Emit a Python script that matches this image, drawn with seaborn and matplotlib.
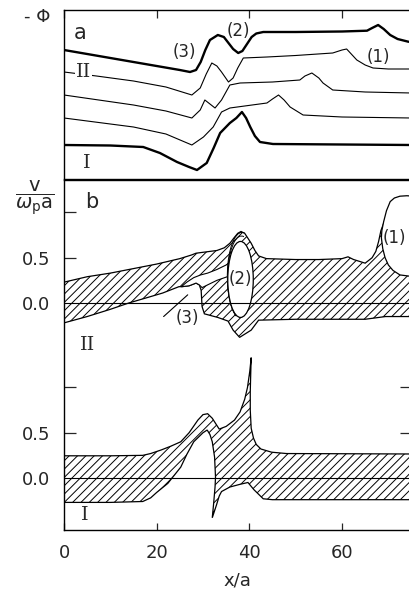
import numpy as np
import matplotlib
matplotlib.use("Agg")
import matplotlib.pyplot as plt
import seaborn as sns
from matplotlib.patches import Ellipse, Arc

sns.set_theme(style="ticks")
plt.rcParams['font.family'] = ['DejaVu Sans']
plt.rcParams['mathtext.fontset'] = 'dejavusans'
plt.rcParams['hatch.linewidth'] = 0.7

# ---- panel a: -phi profiles (arbitrary units, stacked) ----
a_x = [0, 5, 10, 15, 20, 25, 27.2, 28.5, 29.5, 30.5, 31.5, 33.2, 34.5, 35.5, 36.5, 37.6, 38.5, 39.5,
       40.5, 41.5, 43, 50, 60, 65.4, 66.5, 67.8, 69, 70.4, 72, 74.3, 75]
a_y = [129, 125, 121, 117, 113, 109, 107, 109, 117, 129, 139, 144, 142, 136, 130, 126, 128, 135,
       142, 145.5, 147, 147, 147.5, 148.3, 151, 154, 150, 144, 140, 137.3, 137]

c2_x = [0, 7, 15, 22, 27.6, 29.4, 30.7, 31.9, 33, 34, 35.5, 36.5, 37.5, 38.7, 43.8, 50, 58, 60, 61,
        62, 63.2, 65, 66.7, 70, 75]
c2_y = [107, 103, 98, 92, 84, 91, 105, 116, 113, 107, 97, 101, 111, 121, 122, 123.5, 126, 129, 130,
        125, 119, 114, 111, 110, 110]

c3_x = [0, 15, 22, 27.6, 29.4, 30.4, 31.5, 32.6, 34, 35.8, 38, 45, 50.9, 52, 53.5, 55, 55.9, 58, 65, 75]
c3_y = [84, 74, 68, 61, 69, 79, 75, 71, 79, 94, 96, 97, 99, 103, 106, 101, 96, 89, 87, 86]

c4_x = [0, 15, 22, 27.6, 30.1, 32.2, 34, 35.8, 43.8, 45, 46.3, 47.5, 48.8, 51.6, 60, 75]
c4_y = [61, 52, 45, 34, 42, 52, 67, 71, 76, 80, 84, 79, 72, 64, 62, 61]

c1_x = [0, 10, 17.1, 20.7, 24.4, 27, 28.7, 30.8, 32.3, 33.7, 35.8, 37.2, 38.4, 39.3, 40.2, 41.2,
        42.3, 45.1, 75]
c1_y = [34, 33.5, 32, 26, 17, 12, 9, 16, 31, 46, 56, 61, 67, 61, 52, 43, 37, 35, 34]

# ---- panel b: phase space regions, v/(omega_p a) ----
D = 1.934  # vertical offset of case II

II_top_x = [0, 5, 10, 15, 20, 25, 27.5, 28.5, 30, 33, 34.6, 35.8, 36.7, 37.5, 38.2, 39, 40.4, 41.2,
            42, 43.7, 50, 55, 60, 61.3, 62.5, 65, 66.5, 67.3, 67.9, 68.4, 68.7, 69.5, 70.5, 75.5]
II_top_v = [0.23, 0.29, 0.33, 0.38, 0.43, 0.49, 0.53, 0.55, 0.56, 0.58, 0.61, 0.66, 0.72, 0.77, 0.79,
            0.77, 0.66, 0.58, 0.52, 0.49, 0.48, 0.48, 0.49, 0.51, 0.48, 0.44, 0.5, 0.57, 0.68, 0.8,
            0.84, 0.95, 1.0, 1.0]
II_bot_x = [75.5, 69.4, 65, 58.5, 50, 42, 40.4, 37.9, 36.5, 35.4, 33.2, 30.3, 29.8, 29.6, 29.2, 28.5,
            27, 25.5, 24.8, 21.3, 18, 14, 10, 5, 0]
II_bot_v = [-0.15, -0.15, -0.18, -0.18, -0.18, -0.19, -0.3, -0.38, -0.3, -0.2, -0.16, -0.12, -0.04,
            0.14, 0.2, 0.22, 0.19, 0.18, 0.18, 0.11, 0.06, 0.0, -0.07, -0.15, -0.22]

gap_x = [25.3, 26.5, 28, 29.5, 31, 33, 35, 35.8, 35.8, 33, 31, 29.8, 29.2, 28.5, 27, 25.3]
gap_v = [0.18, 0.23, 0.28, 0.31, 0.33, 0.37, 0.42, 0.45, 0.3, 0.25, 0.2, 0.17, 0.2, 0.22, 0.19, 0.18]

bub_x = [68.5, 68.8, 69.3, 70, 71, 72.5, 74, 75.5, 75.5, 74, 72.5, 71.3, 70.4, 69.6, 69, 68.6, 68.5]
bub_v = [0.72, 0.6, 0.5, 0.42, 0.36, 0.31, 0.3, 0.29, 1.18, 1.185, 1.18, 1.16, 1.12, 1.02, 0.9,
         0.8, 0.72]

hole2 = dict(x=38.1, v=0.26, w=5.5, h=0.84)

I_top_x = [0, 10, 17, 18.7, 21, 23, 25.2, 27, 28.9, 30, 31, 32, 33.5, 35, 36.8, 38, 39, 39.6, 40.1,
           40.4, 40.3, 40.2, 40.2, 40.4, 40.9, 41.5, 42.5, 44.8, 48, 75.5]
I_top_v = [0.245, 0.245, 0.25, 0.27, 0.31, 0.35, 0.4, 0.5, 0.64, 0.7, 0.71, 0.66, 0.54, 0.57, 0.64,
           0.73, 0.87, 1.0, 1.18, 1.33, 1.15, 0.95, 0.75, 0.55, 0.44, 0.37, 0.32, 0.285, 0.27, 0.265]
I_bot_x = [75.5, 45, 43, 41, 39.7, 38, 35.8, 34, 33.5, 32.9, 32.0, 32.3, 32.6, 32.7, 32.5, 32.0,
           31.5, 30.9, 30, 28, 26.5, 25.2, 22.4, 20, 18.7, 17, 10, 0]
I_bot_v = [-0.24, -0.24, -0.23, -0.13, -0.05, -0.07, -0.1, -0.15, -0.2, -0.3, -0.44, -0.28, -0.1,
           0.01, 0.23, 0.4, 0.48, 0.53, 0.5, 0.4, 0.26, 0.12, -0.06, -0.16, -0.22, -0.26, -0.27, -0.27]

x_ticks = [0, 20, 40, 60]
v_ticks = [0.0, 0.5, 1.0]
v_labels = ["0.0", "0.5", ""]

fig = plt.figure(figsize=(4.09, 5.95), dpi=100)
left, width = 64 / 409, 347.5 / 409
ax_top = fig.add_axes([left, (595 - 179) / 595, width, 169 / 595])
ax_bot = fig.add_axes([left, (595 - 530) / 595, width, 350 / 595])

# panel a
for xs, ys, lw in [(a_x, a_y, 1.7), (c2_x, c2_y, 0.8), (c3_x, c3_y, 0.8),
                   (c4_x, c4_y, 0.8), (c1_x, c1_y, 1.7)]:
    sns.lineplot(x=xs, y=ys, ax=ax_top, color="black", linewidth=lw, sort=False, estimator=None)
ax_top.set_xlim(0, 75)
ax_top.set_ylim(0, 169)
ax_top.set_yticks([])
ax_top.set_xticks(x_ticks)
ax_top.tick_params(axis="x", direction="in", length=6, width=0.9, top=True, bottom=False,
                   labelbottom=False)
ax_top.set_xlabel("")
for s in ax_top.spines.values():
    s.set_linewidth(1.0)
    s.set_color("black")

serif = ["DejaVu Serif"]
ax_top.text(3.5, 146, "a", fontsize=15, ha="center", va="center")
ax_top.text(4.2, 107, "II", fontsize=14, family=serif, ha="center", va="center",
            bbox=dict(facecolor="white", edgecolor="none", pad=0.5))
ax_top.text(5, 16, "I", fontsize=14, family=serif, ha="center", va="center")
ax_top.text(26, 127, "(3)", fontsize=12, ha="center", va="center")
ax_top.text(37.6, 148, "(2)", fontsize=12, ha="center", va="center")
ax_top.text(67.8, 122, "(1)", fontsize=12, ha="center", va="center")
fig.text(37 / 409, 1 - 17 / 595, "- \u03a6", fontsize=13, ha="center", va="center")

# panel b, case II (offset by D)
ax_bot.fill(II_top_x + II_bot_x, np.array(II_top_v + II_bot_v) + D, facecolor="white",
            edgecolor="black", hatch="////", linewidth=0.9, zorder=2)
ax_bot.fill(gap_x, np.array(gap_v) + D, facecolor="white", edgecolor="black", linewidth=0.8, zorder=3)
for dx, dv, dw, dh in [(0.2, 0.02, 0.5, 0.08), (0.3, 0.04, 0.8, 0.12)]:
    ax_bot.add_patch(Arc((hole2["x"] + dx, hole2["v"] + dv + D), hole2["w"] + dw, hole2["h"] + dh,
                         theta1=40, theta2=200, color="black", linewidth=0.7, zorder=4))
ax_bot.add_patch(Ellipse((hole2["x"], hole2["v"] + D), hole2["w"], hole2["h"], facecolor="white",
                         edgecolor="black", linewidth=0.9, zorder=5))
ax_bot.fill(bub_x, np.array(bub_v) + D, facecolor="white", edgecolor="black", linewidth=0.9, zorder=5)

# panel b, case I
ax_bot.fill(I_top_x + I_bot_x, np.array(I_top_v + I_bot_v), facecolor="white",
            edgecolor="black", hatch="////", linewidth=0.9, zorder=2)

ax_bot.axhline(0, color="black", linewidth=0.8, zorder=6)
ax_bot.axhline(D, color="black", linewidth=0.8, zorder=6)
ax_bot.plot([21.5, 26.7], [D - 0.15, D + 0.09], color="black", linewidth=0.8, zorder=6)

ax_bot.text(38, D + 0.26, "(2)", fontsize=12, ha="center", va="center", zorder=7)
ax_bot.text(71.2, D + 0.72, "(1)", fontsize=12, ha="center", va="center", zorder=7)
ax_bot.text(26.6, D - 0.17, "(3)", fontsize=12, ha="center", va="center", zorder=7)
ax_bot.text(5, D - 0.46, "II", fontsize=14, family=serif, ha="center", va="center")
ax_bot.text(4.5, -0.41, "I", fontsize=14, family=serif, ha="center", va="center")
ax_bot.text(6, 3.05, "b", fontsize=15, ha="center", va="center")

ax_bot.set_xlim(0, 75)
ax_bot.set_ylim(-0.575, 3.293)
ax_bot.set_xticks(x_ticks)
ax_bot.set_yticks(v_ticks + [t + D for t in v_ticks])
ax_bot.set_yticklabels(v_labels + v_labels)
ax_bot.tick_params(axis="y", direction="in", length=8.5, width=0.9, left=True, right=True,
                   labelsize=13, pad=10)
ax_bot.tick_params(axis="x", direction="in", length=5, width=0.9, labelsize=13, pad=10)
ax_bot.set_xlabel("x/a", fontsize=13, labelpad=7)
for s in ax_bot.spines.values():
    s.set_linewidth(1.0)
    s.set_color("black")

fig.text(35 / 409, 1 - 198 / 595, r"$\dfrac{\mathrm{v}}{\omega_\mathrm{p}\mathrm{a}}$", fontsize=14,
         ha="center", va="center")

fig.savefig("out.png", dpi=100)
